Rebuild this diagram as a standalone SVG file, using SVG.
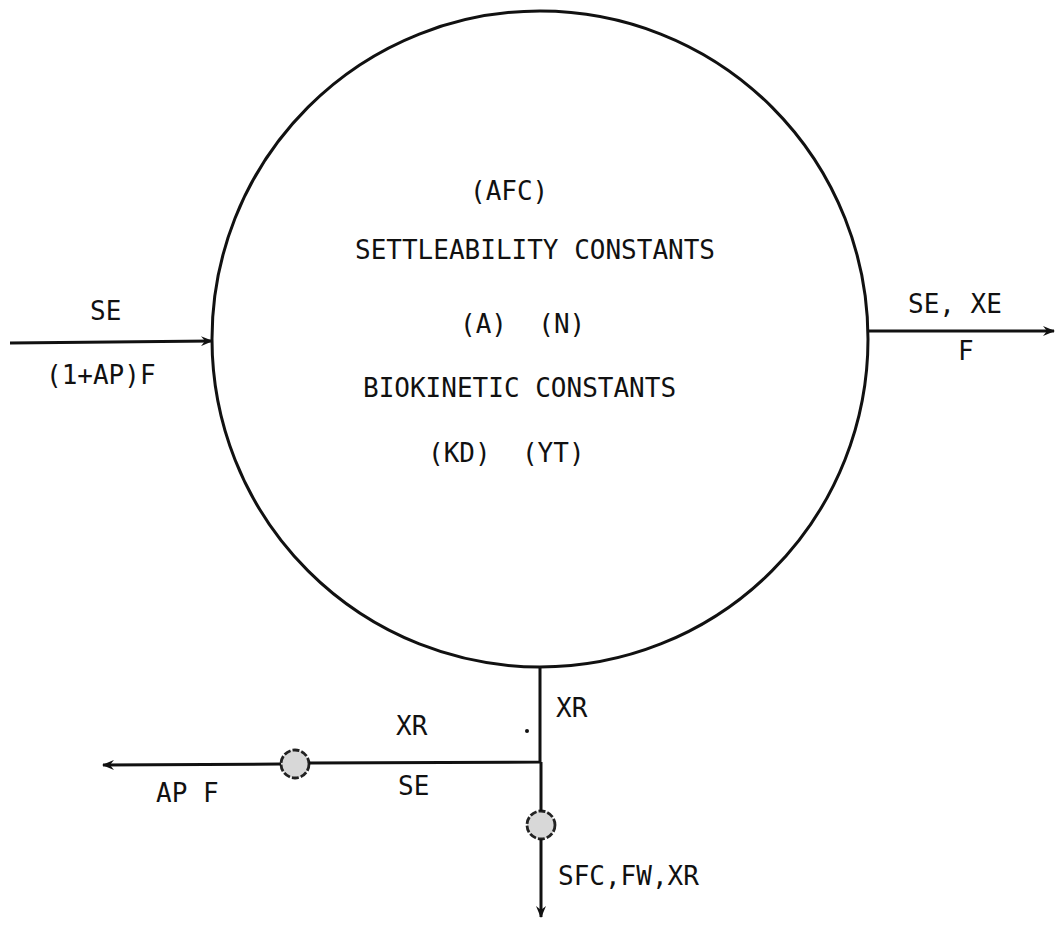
<svg xmlns="http://www.w3.org/2000/svg" width="1058" height="928" viewBox="0 0 1058 928">
<style>
  .t { font-family: "DejaVu Sans Mono", "Liberation Mono", monospace; font-size: 26px; fill: #111; white-space: pre; }
  .ln { stroke: #111; stroke-width: 3; fill: none; }
  .valve { fill: #d8d8d8; stroke: #222; stroke-width: 2.8; stroke-dasharray: 7 2; }
</style>
<defs>
  <marker id="arr" viewBox="0 0 12 10" refX="11" refY="5" markerWidth="12" markerHeight="10" markerUnits="userSpaceOnUse" orient="auto">
    <path d="M0,0 L12,5 L0,10 L4,5 z" fill="#111"/>
  </marker>
</defs>
<rect width="1058" height="928" fill="#fff"/>

<g id="tank">
  <circle cx="540" cy="339" r="328" fill="none" stroke="#111" stroke-width="3"/>
  <text class="t" x="470" y="200">(AFC)</text>
  <text class="t" x="355" y="259">SETTLEABILITY CONSTANTS</text>
  <text class="t" x="460" y="333" xml:space="preserve">(A)  (N)</text>
  <text class="t" x="363" y="397">BIOKINETIC CONSTANTS</text>
  <text class="t" x="428" y="462" xml:space="preserve">(KD)  (YT)</text>
</g>

<g id="valve-recycle">
  <circle class="valve" cx="295" cy="764" r="14"/>
</g>
<g id="valve-waste">
  <circle class="valve" cx="541" cy="825" r="14"/>
</g>

<g id="connectors">
  <line class="ln" x1="10" y1="343" x2="212" y2="341" marker-end="url(#arr)"/>
  <line class="ln" x1="867" y1="331" x2="1054" y2="331" marker-end="url(#arr)"/>
  <polyline class="ln" points="540,667 540,762 309,763"/>
  <line class="ln" x1="541" y1="762" x2="541" y2="811"/>
  <line class="ln" x1="281" y1="764" x2="103" y2="765" marker-end="url(#arr)"/>
  <line class="ln" x1="541" y1="839" x2="541" y2="917" marker-end="url(#arr)"/>
</g>

<g id="labels">
  <text class="t" x="90" y="320">SE</text>
  <text class="t" x="46" y="384">(1+AP)F</text>
  <text class="t" x="908" y="313">SE, XE</text>
  <text class="t" x="958" y="360">F</text>
  <text class="t" x="556" y="717">XR</text>
  <text class="t" x="396" y="735">XR</text>
  <text class="t" x="398" y="795">SE</text>
  <text class="t" x="156" y="802">AP F</text>
  <text class="t" x="558" y="885">SFC,FW,XR</text>
  <circle cx="527" cy="731" r="2" fill="#111"/>
</g>
</svg>
